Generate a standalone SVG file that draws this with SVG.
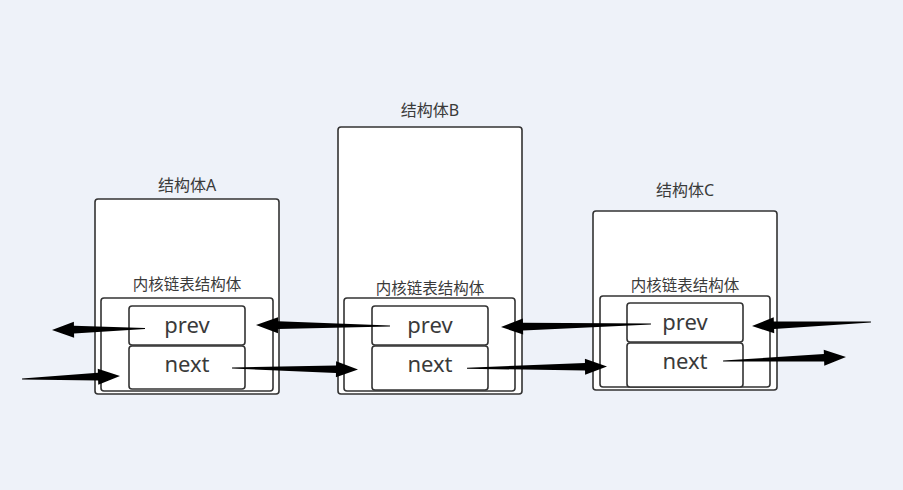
<svg xmlns="http://www.w3.org/2000/svg" width="903" height="490" viewBox="0 0 903 490">
<style>
.box{fill:#fff;stroke:#333;stroke-width:1.6}
.t{font-family:"Noto Sans","Noto Sans CJK SC",sans-serif;fill:#3a3a3a;text-anchor:middle}
.s{font-size:15.5px}
.h{font-size:16px}
.f{font-size:22px}
.a{fill:#000}
</style>
<rect width="903" height="490" fill="#EEF2F9"/>
<g id="structA">
<text class="t h" x="187" y="191">结构体A</text>
<rect class="box" x="95" y="199" width="184" height="195" rx="3"/>
<text class="t s" x="187" y="290">内核链表结构体</text>
<rect class="box" x="101" y="298" width="172" height="93" rx="3"/>
<rect class="box" x="129" y="306" width="116" height="39" rx="3"/>
<text class="t f" x="187" y="333">prev</text>
<rect class="box" x="129" y="346" width="116" height="43" rx="3"/>
<text class="t f" x="187" y="372">next</text>
</g>
<g id="structB">
<text class="t h" x="430" y="116">结构体B</text>
<rect class="box" x="338" y="127" width="184" height="267" rx="3"/>
<text class="t s" x="430" y="294">内核链表结构体</text>
<rect class="box" x="344" y="298" width="171" height="93" rx="3"/>
<rect class="box" x="372" y="306" width="116" height="39" rx="3"/>
<text class="t f" x="430" y="333">prev</text>
<rect class="box" x="372" y="346" width="116" height="44" rx="3"/>
<text class="t f" x="430" y="372">next</text>
</g>
<g id="structC">
<text class="t h" x="685" y="196">结构体C</text>
<rect class="box" x="593" y="211" width="184" height="179" rx="3"/>
<text class="t s" x="685" y="291">内核链表结构体</text>
<rect class="box" x="600" y="296" width="170" height="91" rx="3"/>
<rect class="box" x="627" y="303" width="116" height="39" rx="3"/>
<text class="t f" x="685" y="330">prev</text>
<rect class="box" x="627" y="343" width="116" height="44" rx="3"/>
<text class="t f" x="685" y="369">next</text>
</g>
<g id="connectors">
<path class="a" transform="translate(52,330) rotate(179.1)" d="M0,0 L-22,-8 L-22,-3.8 L-93,-0.5 L-93,0.5 L-22,3.8 L-22,8 Z"/>
<path class="a" transform="translate(120,376) rotate(-1.75)" d="M0,0 L-22,-8 L-22,-3.8 L-98,-0.5 L-98,0.5 L-22,3.8 L-22,8 Z"/>
<path class="a" transform="translate(358,369.5) rotate(0.7)" d="M0,0 L-22,-8 L-22,-3.8 L-126,-0.5 L-126,0.5 L-22,3.8 L-22,8 Z"/>
<path class="a" transform="translate(256,325) rotate(180.4)" d="M0,0 L-22,-8 L-22,-3.8 L-134,-0.5 L-134,0.5 L-22,3.8 L-22,8 Z"/>
<path class="a" transform="translate(607,366.5) rotate(-0.7)" d="M0,0 L-22,-8 L-22,-3.8 L-140,-0.5 L-140,0.5 L-22,3.8 L-22,8 Z"/>
<path class="a" transform="translate(501,327) rotate(178.9)" d="M0,0 L-22,-8 L-22,-3.8 L-150,-0.5 L-150,0.5 L-22,3.8 L-22,8 Z"/>
<path class="a" transform="translate(752,326) rotate(178.1)" d="M0,0 L-22,-8 L-22,-3.8 L-119,-0.5 L-119,0.5 L-22,3.8 L-22,8 Z"/>
<path class="a" transform="translate(846,357) rotate(-1.9)" d="M0,0 L-22,-8 L-22,-3.8 L-123,-0.5 L-123,0.5 L-22,3.8 L-22,8 Z"/>
</g>
</svg>
